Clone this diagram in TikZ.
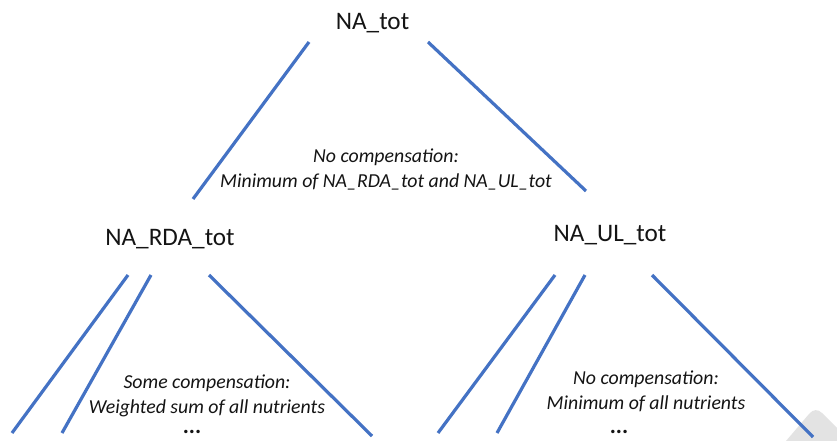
\documentclass[tikz,border=0pt]{standalone}
\usepackage{fontspec}
\setmainfont{Carlito}
\definecolor{lineblue}{HTML}{4472C4}
\definecolor{txt}{HTML}{141414}
\begin{document}
\begin{tikzpicture}[x=1pt,y=-1pt,
  branch/.style={draw=lineblue,line width=3.2pt},
  title/.style={inner sep=0pt,text=txt,font=\fontsize{25.2}{28}\selectfont},
  note/.style={inner sep=0pt,text=txt,align=center,font=\fontsize{19.8}{25}\selectfont\itshape},
  dots/.style={inner sep=0pt,text height=3.5pt,text depth=0pt,text=txt,font=\fontsize{23}{24}\selectfont\bfseries}]
\useasboundingbox (0,0) rectangle (837,441);
\fill[white] (0,0) rectangle (837,441);
% grey corner shape
\fill[gray!22] (786,441) -- (809,414) .. controls (813,409) and (818,409) .. (822,413) -- (837,428) -- (837,441) -- cycle;

\node[title] (top) at (372.5,23) {NA\_tot};
\node[title] (rda) at (170,239) {NA\_RDA\_tot};
\node[title] (ul) at (610,235) {NA\_UL\_tot};

\node[note] (n1) at (386,169) {No compensation:\\Minimum of NA\_RDA\_tot and NA\_UL\_tot};
\node[note] (n2) at (207,396) {Some compensation:\\Weighted sum of all nutrients};
\node[note] (n3) at (646,391) {No compensation:\\Minimum of all nutrients};
\node[dots] (d1) at (192,432) {...};
\node[dots] (d2) at (619,432) {...};

% endpoints
\coordinate (t1) at (309,42);  \coordinate (t1e) at (193,199);
\coordinate (t2) at (428,42);  \coordinate (t2e) at (586,191);
\coordinate (r1) at (128,275); \coordinate (r1e) at (12,433);
\coordinate (r2) at (151,275); \coordinate (r2e) at (62,433);
\coordinate (r3) at (209,275); \coordinate (r3e) at (372,436);
\coordinate (u1) at (555,275); \coordinate (u1e) at (438,433);
\coordinate (u2) at (585,275); \coordinate (u2e) at (497,433);
\coordinate (u3) at (652,275); \coordinate (u3e) at (813,437);

\draw[branch] (t1) -- (t1e);
\draw[branch] (t2) -- (t2e);
\draw[branch] (r1) -- (r1e);
\draw[branch] (r2) -- (r2e);
\draw[branch] (r3) -- (r3e);
\draw[branch] (u1) -- (u1e);
\draw[branch] (u2) -- (u2e);
\draw[branch] (u3) -- (u3e);
\end{tikzpicture}
\end{document}
